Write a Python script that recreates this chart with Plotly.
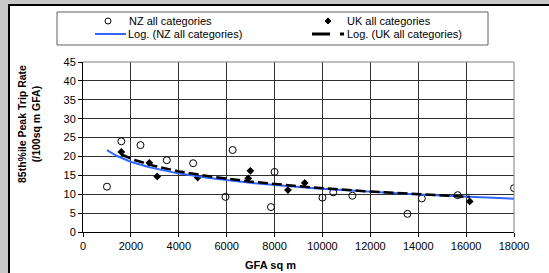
import numpy as np
import plotly.graph_objects as go

# ---- data ----
nz_gfa = [1000, 1600, 2400, 3500, 4600, 5950, 6250, 7850, 8000,
          10000, 10450, 11250, 13550, 14150, 15650, 18000]
nz_rate = [12.0, 24.0, 23.0, 19.0, 18.2, 9.3, 21.7, 6.6, 15.9,
           9.1, 10.5, 9.6, 4.8, 8.9, 9.75, 11.6]

uk_gfa = [1600, 2770, 3100, 4790, 6900, 6990, 8560, 9260, 16150]
uk_rate = [21.2, 18.3, 14.7, 14.4, 14.2, 16.2, 11.1, 13.0, 8.1]

x_ticks = list(range(0, 18001, 2000))
y_ticks = list(range(0, 46, 5))

nz_name = "NZ all categories"
uk_name = "UK all categories"
nz_trend_name = "Log. (NZ all categories)"
uk_trend_name = "Log. (UK all categories)"


def log_trend(xs, ys, n=200):
    lx = np.log(np.asarray(xs, float))
    a, b = np.polyfit(lx, np.asarray(ys, float), 1)
    xx = np.linspace(min(xs), max(xs), n)
    return xx, a * np.log(xx) + b


FONT = "Liberation Sans, Arial, sans-serif"
W, H = 549, 273
ML, MR, MT, MB = 83, 35, 62, 41
PW, PH = W - ML - MR, H - MT - MB


def px(xp):
    return (xp - ML) / PW


def py(yp):
    return (H - MB - yp) / PH


fig = go.Figure()
fig.add_trace(go.Scatter(x=nz_gfa, y=nz_rate, mode="markers", name=nz_name,
                         showlegend=False,
                         marker=dict(symbol="circle-open", size=7, color="black",
                                     line=dict(width=1, color="black"))))
fig.add_trace(go.Scatter(x=uk_gfa, y=uk_rate, mode="markers", name=uk_name,
                         showlegend=False,
                         marker=dict(symbol="diamond", size=6, color="black")))
tx, ty = log_trend(nz_gfa, nz_rate)
fig.add_trace(go.Scatter(x=tx, y=ty, mode="lines", name=nz_trend_name,
                         showlegend=False, line=dict(color="#3366FF", width=2)))
tx, ty = log_trend(uk_gfa, uk_rate)
fig.add_trace(go.Scatter(x=tx, y=ty, mode="lines", name=uk_trend_name,
                         showlegend=False,
                         line=dict(color="black", width=2.5, dash="10px,4px")))

shapes = []
# white chart area with black left/top border
shapes.append(dict(type="rect", xref="paper", yref="paper", layer="below",
                   x0=px(9), x1=px(560), y0=py(290), y1=py(5),
                   fillcolor="white", line=dict(color="black", width=2)))
# plot area top/right border (grey)
shapes.append(dict(type="line", xref="paper", yref="paper", layer="above",
                   x0=0, x1=1, y0=1, y1=1, line=dict(color="#808080", width=1)))
shapes.append(dict(type="line", xref="paper", yref="paper", layer="above",
                   x0=1, x1=1, y0=0, y1=1, line=dict(color="#808080", width=1)))
# legend box
shapes.append(dict(type="rect", xref="paper", yref="paper",
                   x0=px(57), x1=px(488), y0=py(45), y1=py(12),
                   fillcolor="white", line=dict(color="#606060", width=1)))
r1, r2 = py(21), py(34)
# legend symbols
shapes.append(dict(type="circle", xref="paper", yref="paper",
                   xsizemode="pixel", ysizemode="pixel",
                   xanchor=px(108), yanchor=r1, x0=-3, x1=3, y0=-3, y1=3,
                   line=dict(color="black", width=1), fillcolor="white"))
shapes.append(dict(type="path", xref="paper", yref="paper",
                   xsizemode="pixel", ysizemode="pixel",
                   xanchor=px(328), yanchor=r1,
                   path="M 0 3 L 3 0 L 0 -3 L -3 0 Z",
                   line=dict(color="black", width=1), fillcolor="black"))
shapes.append(dict(type="line", xref="paper", yref="paper",
                   x0=px(95), x1=px(126), y0=r2, y1=r2,
                   line=dict(color="#3366FF", width=2)))
shapes.append(dict(type="line", xref="paper", yref="paper",
                   x0=px(312), x1=px(344), y0=r2, y1=r2,
                   line=dict(color="black", width=3, dash="18px,10px")))

ann = []
for txt, xp, yy in [(nz_name, 127, r1), (uk_name, 345, r1),
                    (nz_trend_name, 126, r2), (uk_trend_name, 345, r2)]:
    ann.append(dict(text=txt, xref="paper", yref="paper", x=px(xp), y=yy,
                    xanchor="left", yanchor="middle", showarrow=False,
                    font=dict(family=FONT, size=11, color="black")))
ann.append(dict(text="<b>GFA sq m</b>", xref="paper", yref="paper",
                x=px(270), y=py(265), xanchor="center", yanchor="middle",
                showarrow=False, font=dict(family=FONT, size=11, color="black")))
ann.append(dict(text="<b>85th%ile Peak Trip Rate<br>(/100sq m GFA)</b>",
                xref="paper", yref="paper", x=px(29), y=py(124),
                xanchor="center", yanchor="middle", textangle=-90,
                showarrow=False,
                font=dict(family=FONT, size=10.5, color="black")))

fig.update_layout(
    width=W, height=H,
    margin=dict(l=ML, r=MR, t=MT, b=MB, pad=0),
    paper_bgcolor="#c8c8c8", plot_bgcolor="white",
    font=dict(family=FONT, size=11, color="black"),
    showlegend=False,
    shapes=shapes, annotations=ann,
    xaxis=dict(range=[0, 18000], tickvals=x_ticks,
               ticktext=[str(v) for v in x_ticks],
               showgrid=True, gridcolor="#303030", gridwidth=1,
               showline=True, linecolor="black", linewidth=1,
               ticks="outside", ticklen=4, tickcolor="black",
               zeroline=False, tickfont=dict(size=11)),
    yaxis=dict(range=[0, 45], tickvals=y_ticks,
               ticktext=[str(v) for v in y_ticks],
               showgrid=True, gridcolor="#303030", gridwidth=1,
               showline=True, linecolor="black", linewidth=1,
               ticks="outside", ticklen=4, tickcolor="black",
               zeroline=False, tickfont=dict(size=11)),
)

fig.write_html("out.html",
               config={"displayModeBar": False},
               post_script="document.body.style.margin='0';"
                           "document.body.style.overflow='hidden';")
